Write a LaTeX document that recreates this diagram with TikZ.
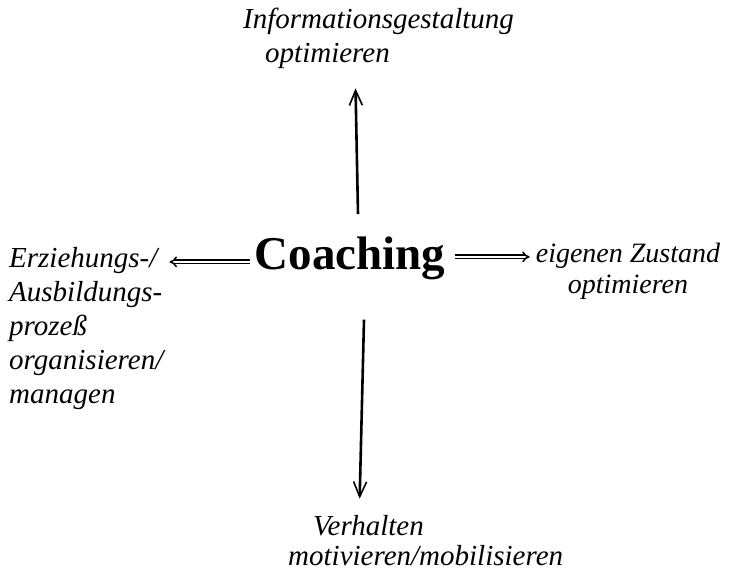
\documentclass[tikz,border=0pt]{standalone}
\usepackage{fontspec}
\setmainfont{Liberation Serif}
\usetikzlibrary{arrows.meta,calc}
\begin{document}
\begin{tikzpicture}[x=1pt,y=-1pt,
  label/.style={inner sep=0pt,align=left,anchor=base west,
    font=\itshape\fontsize{29}{34}\selectfont},
  center/.style={inner sep=0pt,anchor=base,
    font=\bfseries\fontsize{47}{50}\selectfont},
  vline/.style={line width=2.6pt,-{Straight Barb[length=15pt,width=13pt,line width=1.6pt]}},
  hline/.style={double,double distance=2pt,line width=1.5pt,
    -{Implies[length=8pt,width=12pt]}}]
\useasboundingbox (0,0) rectangle (737,573);

% central term
\node[center] (coach) at (350,269) {Coaching};

% the four fields of action (anchored at the baseline of the last line)
\node[label] (top) at (243,62) {Informationsgestaltung\\\hspace*{22pt}optimieren};
\node[label,align=center,anchor=base,font=\itshape\fontsize{28}{31}\selectfont]
  (right) at (628,293) {eigenen Zustand\\optimieren};
\node[label] (left) at (9,403) {Erziehungs-/\\Ausbildungs-\\prozeß\\organisieren/\\managen};
\node[label,font=\itshape\fontsize{29}{30}\selectfont]
  (bottom) at (288,565) {\hspace*{25pt}Verhalten\\motivieren/mobilisieren};

% start points of the horizontal arrows
\coordinate (lfrom) at ($(coach.west)+(-4,4)$);
\coordinate (rfrom) at ($(coach.east)+(9,-1)$);

% connectors
\draw[vline] ($(coach.north)+(8,-22)$) -- ($(top.south)+(-23,20)$);
\draw[vline] ($(coach.south)+(14,40)$) -- ($(bottom.north)+(-66,-16)$);
\draw[hline] (lfrom) -- ([xshift=6pt]left.east |- lfrom);
\draw[hline] (rfrom) -- ([xshift=-6pt]right.west |- rfrom);
\end{tikzpicture}
\end{document}
